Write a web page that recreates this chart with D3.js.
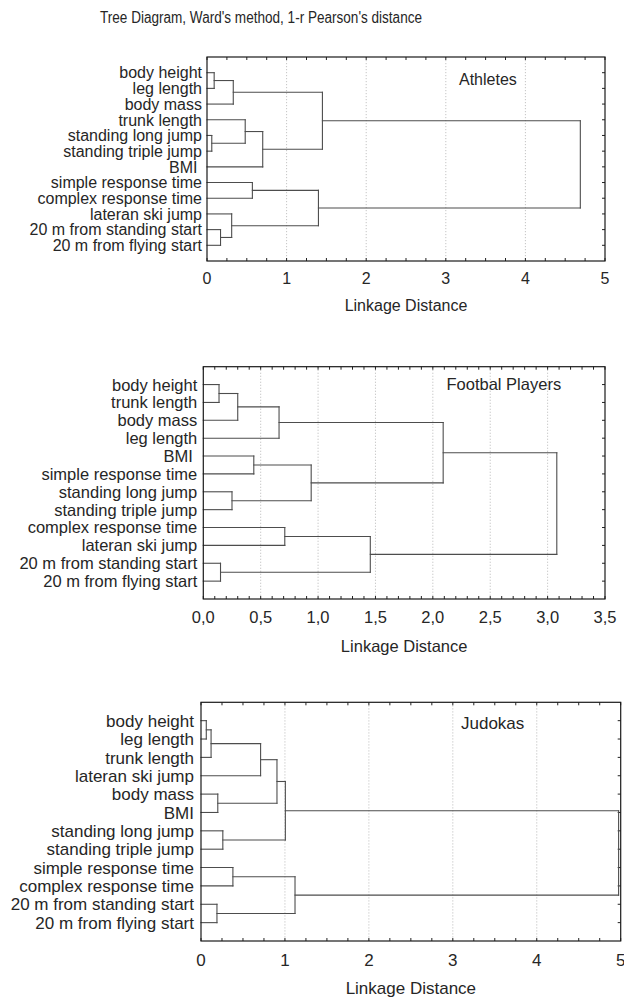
<!DOCTYPE html>
<html>
<head>
<meta charset="utf-8">
<script src="https://cdn.jsdelivr.net/npm/d3@7"></script>
<style>
  body { margin: 0; background: #fff; }
  text { font-family: "Liberation Sans", Arial, sans-serif; fill: #262626; }
</style>
</head>
<body>
<div id="chart"></div>
<script>
// Données : feuilles dans l'ordre d'affichage, fusions [enfant gauche, enfant droit, distance]
// (index 0-11 = feuilles, 12+ = fusions dans l'ordre)
const athletesLeaves = ["body height", "leg length", "body mass", "trunk length",
  "standing long jump", "standing triple jump", "BMI ", "simple response time",
  "complex response time", "lateran ski jump", "20 m from standing start", "20 m from flying start"];
const athletesMerges = [
  [0, 1, 0.09], [4, 5, 0.06], [10, 11, 0.17], [9, 14, 0.31], [12, 2, 0.33],
  [3, 13, 0.48], [7, 8, 0.57], [17, 6, 0.70], [18, 15, 1.40], [16, 19, 1.45], [21, 20, 4.69]];
const athletesTicks = [0, 1, 2, 3, 4, 5];

const footballLeaves = ["body height", "trunk length", "body mass", "leg length", "BMI ",
  "simple response time", "standing long jump", "standing triple jump", "complex response time",
  "lateran ski jump", "20 m from standing start", "20 m from flying start"];
const footballMerges = [
  [0, 1, 0.137], [10, 11, 0.15], [6, 7, 0.25], [12, 2, 0.30], [4, 5, 0.44],
  [15, 3, 0.66], [8, 9, 0.71], [16, 14, 0.94], [18, 13, 1.455], [17, 19, 2.09], [21, 20, 3.08]];
const footballTicks = [0, 0.5, 1, 1.5, 2, 2.5, 3, 3.5];

const judokasLeaves = ["body height", "leg length", "trunk length", "lateran ski jump", "body mass",
  "BMI", "standing long jump", "standing triple jump", "simple response time",
  "complex response time", "20 m from standing start", "20 m from flying start"];
const judokasMerges = [
  [0, 1, 0.063], [12, 2, 0.12], [10, 11, 0.19], [4, 5, 0.20], [6, 7, 0.26],
  [8, 9, 0.38], [13, 3, 0.71], [18, 15, 0.905], [19, 16, 1.005], [17, 14, 1.12], [20, 21, 4.975]];
const judokasTicks = [0, 1, 2, 3, 4, 5];

const mainTitle = "Tree Diagram, Ward's method, 1-r Pearson's distance";
const axisTitle = "Linkage Distance";

const width = 624, height = 997;

const svg = d3.select("#chart").append("svg")
  .attr("width", width)
  .attr("height", height);

svg.append("text")
  .attr("x", 100).attr("y", 22.5)
  .attr("font-size", 16)
  .attr("textLength", 322)
  .attr("lengthAdjust", "spacingAndGlyphs")
  .text(mainTitle);

const commaFmt = d3.formatLocale({decimal: ",", thousands: ".", grouping: [3], currency: ["", ""]}).format(".1f");

// panneaux (positions du cadre en pixels)
const panels = [
  {name: "Athletes", leaves: athletesLeaves, merges: athletesMerges, ticks: athletesTicks,
   domain: [0, 5], minor: 0.25, fmt: d3.format("d"),
   x0: 207, x1: 605, y0: 57, y1: 261, fs: 16, gap: 5,
   titleX: 459, titleY: 85, tickY: 284, axisY: 311},
  {name: "Footbal Players", leaves: footballLeaves, merges: footballMerges, ticks: footballTicks,
   domain: [0, 3.5], minor: 0.1, fmt: commaFmt,
   x0: 203.3, x1: 605, y0: 366.7, y1: 599, fs: 16.5, gap: 6,
   titleX: 446.5, titleY: 390, tickY: 622.5, axisY: 652},
  {name: "Judokas", leaves: judokasLeaves, merges: judokasMerges, ticks: judokasTicks,
   domain: [0, 5], minor: 0.25, fmt: d3.format("d"),
   x0: 201, x1: 620.7, y0: 702.3, y1: 941, fs: 17, gap: 7,
   titleX: 461, titleY: 729, tickY: 966, axisY: 993.5}
];

panels.forEach(drawPanel);

function drawPanel(p) {
  const g = svg.append("g");
  const n = p.leaves.length;

  const x = d3.scaleLinear().domain(p.domain).range([p.x0, p.x1]);
  const y = d3.scaleLinear().domain([0, n + 1]).range([p.y0, p.y1]);

  // grille pointillée aux graduations majeures
  g.selectAll(".grid")
    .data(p.ticks.slice(1, -1))
    .join("line")
    .attr("x1", d => x(d)).attr("x2", d => x(d))
    .attr("y1", p.y0).attr("y2", p.y1)
    .attr("stroke", "#b5b5b5")
    .attr("stroke-width", 0.8)
    .attr("stroke-dasharray", "1.2,1.8");

  // petites graduations vers l'intérieur, haut et bas
  const minorTicks = d3.range(p.domain[0], p.domain[1] + 1e-9, p.minor);
  g.selectAll(".tb")
    .data(minorTicks)
    .join("line")
    .attr("x1", d => x(d)).attr("x2", d => x(d))
    .attr("y1", p.y1).attr("y2", p.y1 - 3)
    .attr("stroke", "#222");
  g.selectAll(".tt")
    .data(minorTicks)
    .join("line")
    .attr("x1", d => x(d)).attr("x2", d => x(d))
    .attr("y1", p.y0).attr("y2", p.y0 + 3)
    .attr("stroke", "#222");

  // graduations à droite, une par feuille
  g.selectAll(".tr")
    .data(d3.range(1, n + 1))
    .join("line")
    .attr("x1", p.x1).attr("x2", p.x1 - 3)
    .attr("y1", d => y(d)).attr("y2", d => y(d))
    .attr("stroke", "#222");

  // calcul du dendrogramme : position (x = distance, y = milieu des enfants)
  const nodes = p.leaves.map((name, i) => ({h: 0, pos: i + 1}));
  p.merges.forEach(([a, b, h]) => {
    nodes.push({h: h, pos: (nodes[a].pos + nodes[b].pos) / 2, a: a, b: b});
  });

  const segs = [];
  nodes.forEach(nd => {
    if (nd.a === undefined) return;
    const A = nodes[nd.a], B = nodes[nd.b];
    segs.push([A.h, A.pos, nd.h, A.pos]);
    segs.push([B.h, B.pos, nd.h, B.pos]);
    segs.push([nd.h, A.pos, nd.h, B.pos]);
  });

  g.selectAll(".seg")
    .data(segs)
    .join("line")
    .attr("x1", d => x(d[0])).attr("y1", d => y(d[1]))
    .attr("x2", d => x(d[2])).attr("y2", d => y(d[3]))
    .attr("stroke", "#4d4d4d")
    .attr("stroke-width", 1.1)
    .attr("stroke-linecap", "square");

  // cadre
  g.append("rect")
    .attr("x", p.x0).attr("y", p.y0)
    .attr("width", p.x1 - p.x0).attr("height", p.y1 - p.y0)
    .attr("fill", "none")
    .attr("stroke", "#1a1a1a")
    .attr("stroke-width", 1.2);

  // étiquettes des variables
  g.selectAll(".lab")
    .data(p.leaves)
    .join("text")
    .attr("x", p.x0 - p.gap)
    .attr("y", (d, i) => y(i + 1))
    .attr("dy", "0.36em")
    .attr("text-anchor", "end")
    .attr("font-size", p.fs)
    .style("white-space", "pre")
    .text(d => d);

  // valeurs de l'axe
  g.selectAll(".tl")
    .data(p.ticks)
    .join("text")
    .attr("x", d => x(d))
    .attr("y", p.tickY)
    .attr("text-anchor", "middle")
    .attr("font-size", p.fs)
    .text(d => p.fmt(d));

  g.append("text")
    .attr("x", (p.x0 + p.x1) / 2)
    .attr("y", p.axisY)
    .attr("text-anchor", "middle")
    .attr("font-size", p.fs)
    .text(axisTitle);

  g.append("text")
    .attr("x", p.titleX)
    .attr("y", p.titleY)
    .attr("font-size", p.fs)
    .text(p.name);
}
</script>
</body>
</html>
